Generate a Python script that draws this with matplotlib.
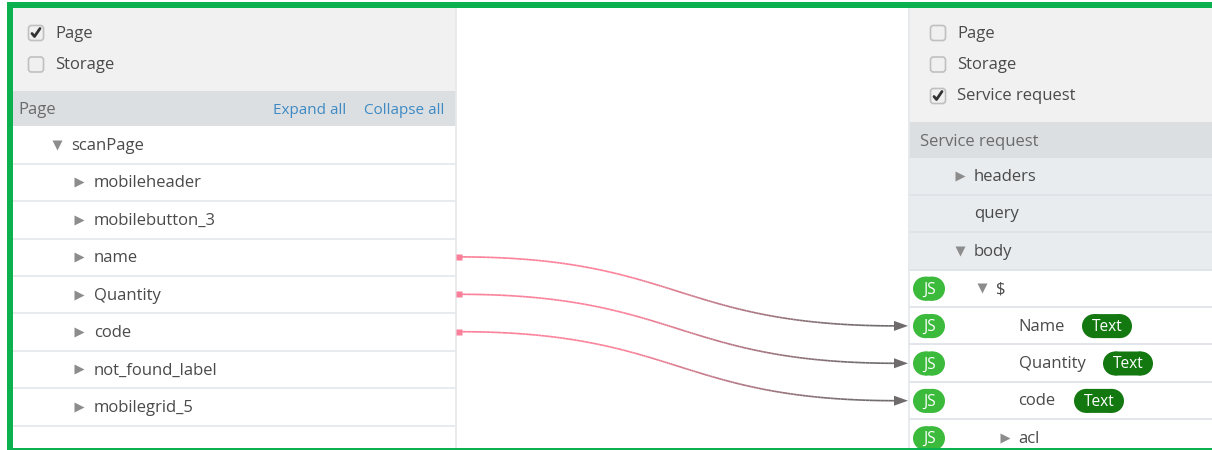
import numpy as np
import matplotlib
matplotlib.use("Agg")
import matplotlib.pyplot as plt
from matplotlib.patches import Rectangle, FancyBboxPatch
from matplotlib.collections import LineCollection
from matplotlib.colors import to_rgb

plt.rcParams['font.family'] = ['Open Sans', 'DejaVu Sans']

# ---- content ----
left_checks = ["Page", "Storage"]
left_checked = [True, False]
left_header = "Page"
left_links = ["Expand all", "Collapse all"]
left_rows = ["scanPage", "mobileheader", "mobilebutton_3", "name", "Quantity",
             "code", "not_found_label", "mobilegrid_5"]
left_indent = [0, 1, 1, 1, 1, 1, 1, 1]
left_open = [True, False, False, False, False, False, False, False]

right_checks = ["Page", "Storage", "Service request"]
right_checked = [False, False, True]
right_header = "Service request"
right_rows = ["headers", "query", "body", "$", "Name", "Quantity", "code", "acl"]
right_arrow = ["closed", None, "open", "open", None, None, None, "closed"]
right_text_x = [974, 974, 974, 996, 1018.5, 1018.5, 1018.5, 1018.5]
right_js = [False, False, False, True, True, True, True, True]
right_tag = [None, None, None, None, "Text", "Text", "Text", None]
tag_x = [None, None, None, None, 1082, 1103, 1074, None]

links = [("name", "Name"), ("Quantity", "Quantity"), ("code", "code")]

# ---- styles ----
GREEN = "#0bb04f"
PANEL = "#f1f1f1"
HEAD = "#dcdfe2"
SUB = "#e9ecef"
LINE = "#e6e9ec"
TXT = "#4a4a4a"
FS = 12.0

fig = plt.figure(figsize=(12.12, 4.5), dpi=100)
ax = fig.add_axes([0, 0, 1, 1])
ax.set_xlim(0, 1212)
ax.set_ylim(450, 0)
ax.axis("off")


def rect(x0, y0, x1, y1, color, z=1, snap=None):
    ax.add_patch(Rectangle((x0, y0), x1 - x0, y1 - y0, fc=color, ec="none", zorder=z, snap=snap))


def label(x, y, s, color=TXT, size=FS, **kw):
    ax.text(x, y, s, color=color, fontsize=size, va="center", ha=kw.pop("ha", "left"), zorder=6, **kw)


def pill(x0, x1, yc, h, color):
    ax.add_patch(plt.Circle((x0 + h / 2, yc), h / 2, fc=color, ec="none", zorder=5))
    ax.add_patch(plt.Circle((x1 - h / 2, yc), h / 2, fc=color, ec="none", zorder=5))
    rect(x0 + h / 2, yc - h / 2, x1 - h / 2, yc + h / 2, color, 5, snap=False)


def checkbox(xc, yc, checked):
    ax.add_patch(FancyBboxPatch((xc - 6.5, yc - 6.5), 13, 13,
                                boxstyle="round,pad=1,rounding_size=3",
                                fc="#f0f0f0", ec="#c0c0c0", lw=1.2, zorder=4))
    if checked:
        ax.plot([xc - 4, xc - 1.5, xc + 4], [yc + 0.5, yc + 3.5, yc - 4.5],
                color="#333333", lw=2, zorder=5, solid_capstyle="round")


def triangle(x, y, kind):
    if kind == "open":
        ax.plot([x], [y], marker="v", ms=7, color="#8c8c8c", mec="none", zorder=5)
    elif kind == "closed":
        ax.plot([x], [y], marker=">", ms=7, color="#8c8c8c", mec="none", zorder=5)


# ---- left panel ----
rect(13, 8, 456, 91, PANEL)
rect(13, 91, 456, 126, HEAD)
for i, (name, chk) in enumerate(zip(left_checks, left_checked)):
    yc = 33 + i * 31.5
    checkbox(36, yc, chk)
    label(55, yc + 0.5, name)
label(18, 109.5, left_header, color="#6b6b6b")
label(273, 110.5, left_links[0], color="#3d8ac4", size=11)
label(364, 110.5, left_links[1], color="#3d8ac4", size=11)

LEFT_Y = [145 + i * 37.4 for i in range(len(left_rows))]
for yc, name, ind, op in zip(LEFT_Y, left_rows, left_indent, left_open):
    ax.plot([13, 456], [yc + 18.7] * 2, color=LINE, lw=1.3, zorder=2)
    tx = 71.5 if ind == 0 else 94
    triangle(tx - 15, yc, "open" if op else "closed")
    label(tx, yc + 1, name)
ax.plot([456, 456], [8, 448], color=LINE, lw=1.3, zorder=2)

# ---- right panel ----
rect(909, 8, 1212, 122, PANEL)
rect(909, 122, 1212, 158, HEAD)
rect(909, 158, 1212, 270, SUB)
for i, (name, chk) in enumerate(zip(right_checks, right_checked)):
    yc = 33 + i * 31.5
    checkbox(938, yc, chk)
    label(957, yc + 0.5, name)
label(920, 141.5, right_header, color="#6b6b6b")

RIGHT_Y = [176 + i * 37.4 for i in range(len(right_rows))]
for yc, name, arr, tx, js, tag, tgx in zip(RIGHT_Y, right_rows, right_arrow, right_text_x,
                                           right_js, right_tag, tag_x):
    if yc + 18.7 < 448:
        ax.plot([909, 1212], [yc + 18.7] * 2, color="#dfe3e7", lw=1.3, zorder=2)
    triangle(tx - 14, yc, arr)
    label(tx, yc + 1, name)
    if js:
        pill(913, 945, yc + 0.5, 24, "#3bba3b")
        label(929, yc + 1.5, "JS", color="#ffffff", size=11.2, ha="center")
    if tag:
        pill(tgx, tgx + 50, yc + 0.5, 24, "#12780f")
        label(tgx + 25, yc + 1.5, tag, color="#ffffff", size=11.2, ha="center")
ax.plot([908.5, 908.5], [8, 448], color=LINE, lw=1.3, zorder=2)

# ---- connectors ----
c0, c1 = np.array(to_rgb("#fb7f98")), np.array(to_rgb("#6f6a6c"))
for src, dst in links:
    y0 = LEFT_Y[left_rows.index(src)] - 0.3
    y1 = RIGHT_Y[right_rows.index(dst)] + 0.3
    x0, x1 = 459.0, 897.0
    t = np.linspace(0, 1, 160)
    mx = (x0 + x1) / 2
    bx = (1 - t)**3 * x0 + 3 * (1 - t)**2 * t * mx + 3 * (1 - t) * t**2 * mx + t**3 * x1
    by = (1 - t)**3 * y0 + 3 * (1 - t)**2 * t * y0 + 3 * (1 - t) * t**2 * y1 + t**3 * y1
    pts = np.column_stack([bx, by]).reshape(-1, 1, 2)
    segs = np.concatenate([pts[:-1], pts[1:]], axis=1)
    frac = np.clip((t[:-1] - 0.35) / 0.6, 0, 1)[:, None]
    ax.add_collection(LineCollection(segs, colors=c0 * (1 - frac) + c1 * frac, linewidths=1.2, zorder=3))
    ax.plot([459], [y0], marker="s", ms=4.5, color="#fb7f98", mec="none", zorder=4)
    ax.fill([894, 908, 894], [y1 - 5, y1, y1 + 5], color="#6f6a6c", lw=0, zorder=4)

# ---- green frame ----
rect(0, 0, 1212, 2, "#ffffff", 7)
rect(7, 2, 1212, 8, GREEN, 8)
rect(7, 2, 13, 450, GREEN, 8)
rect(7, 448, 1212, 450, GREEN, 8)

fig.savefig("out.png", dpi=100)
